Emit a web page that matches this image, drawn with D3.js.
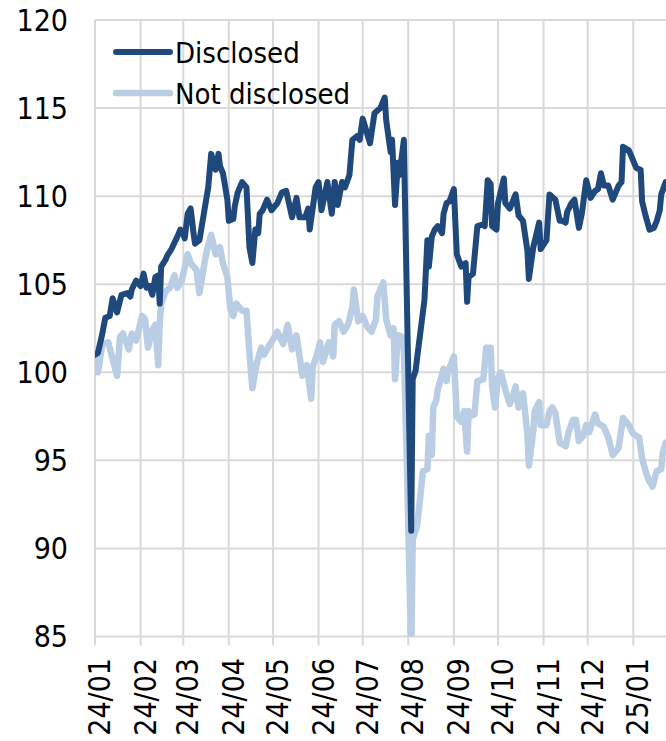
<!DOCTYPE html>
<html>
<head>
<meta charset="utf-8">
<script src="https://cdn.jsdelivr.net/npm/d3@7"></script>
<style>
  html, body { margin: 0; padding: 0; background: #fff; }
  svg text { font-family: "DejaVu Sans Condensed", "DejaVu Sans", sans-serif; font-stretch: condensed; fill: #000; }
</style>
</head>
<body>
<div id="chart"></div>
<script>
// series names + colours
var seriesNames = ["Disclosed", "Not disclosed"];
var yTicks = [85, 90, 95, 100, 105, 110, 115, 120];

var disclosedDates = [
  "2024-01-01","2024-01-03","2024-01-06","2024-01-08","2024-01-11","2024-01-13","2024-01-16","2024-01-19",
  "2024-01-23","2024-01-25","2024-01-26","2024-01-29","2024-02-01","2024-02-03","2024-02-05","2024-02-07",
  "2024-02-09","2024-02-11","2024-02-13","2024-02-14","2024-02-15","2024-02-18","2024-02-19","2024-02-22",
  "2024-02-26","2024-02-28","2024-03-01","2024-03-02","2024-03-04","2024-03-06","2024-03-08","2024-03-09",
  "2024-03-12","2024-03-15","2024-03-18","2024-03-20","2024-03-23","2024-03-25","2024-03-26","2024-03-28",
  "2024-03-31","2024-04-01","2024-04-04","2024-04-05","2024-04-07","2024-04-10","2024-04-13","2024-04-15",
  "2024-04-17","2024-04-19","2024-04-21","2024-04-22","2024-04-24","2024-04-27","2024-04-30","2024-05-04",
  "2024-05-07","2024-05-10","2024-05-14","2024-05-17","2024-05-19","2024-05-23","2024-05-25","2024-05-26",
  "2024-05-30","2024-06-01","2024-06-03","2024-06-07","2024-06-10","2024-06-12","2024-06-14","2024-06-17",
  "2024-06-19","2024-06-22","2024-06-24","2024-06-27","2024-06-29","2024-07-01","2024-07-06","2024-07-09",
  "2024-07-13","2024-07-16","2024-07-17","2024-07-20","2024-07-21","2024-07-23","2024-07-25","2024-07-26",
  "2024-07-29","2024-08-03","2024-08-04","2024-08-06","2024-08-07","2024-08-12","2024-08-14","2024-08-15",
  "2024-08-17","2024-08-19","2024-08-21","2024-08-24","2024-08-25","2024-08-27","2024-08-29","2024-09-01",
  "2024-09-03","2024-09-06","2024-09-09","2024-09-10","2024-09-11","2024-09-14","2024-09-17","2024-09-21",
  "2024-09-22","2024-09-24","2024-09-26","2024-09-27","2024-09-30","2024-10-01","2024-10-05","2024-10-06",
  "2024-10-09","2024-10-13","2024-10-15","2024-10-18","2024-10-21","2024-10-22","2024-10-25","2024-10-29",
  "2024-10-30","2024-11-03","2024-11-05","2024-11-09","2024-11-12","2024-11-14","2024-11-16","2024-11-17",
  "2024-11-20","2024-11-22","2024-11-25","2024-11-27","2024-11-30","2024-12-03","2024-12-06","2024-12-08",
  "2024-12-10","2024-12-12","2024-12-15","2024-12-18","2024-12-22","2024-12-24","2024-12-25","2024-12-29",
  "2025-01-01","2025-01-03","2025-01-06","2025-01-07","2025-01-09","2025-01-12","2025-01-15","2025-01-17",
  "2025-01-19","2025-01-20","2025-01-23"
];
var disclosedValues = [
  101.0,101.1,102.2,103.1,103.2,104.2,103.4,104.4,
  104.5,104.3,104.7,105.2,104.9,105.6,104.8,104.9,
  104.4,105.4,105.5,103.9,106.0,106.4,106.6,107.0,
  107.7,108.1,107.9,107.6,109.0,109.3,107.9,107.3,
  107.5,109.0,110.5,112.4,111.5,112.4,111.7,111.3,
  109.8,108.6,108.7,109.4,110.2,110.8,110.5,107.1,
  106.2,108.1,107.9,109.0,109.2,109.8,109.2,109.6,
  110.2,110.3,108.8,109.9,108.8,108.8,109.3,108.1,
  110.5,110.8,109.2,110.8,109.0,110.8,109.5,110.8,
  110.5,111.2,113.2,113.4,113.2,114.4,113.0,114.7,
  115.0,115.6,114.3,112.5,113.2,109.5,111.9,111.2,
  113.2,91.0,99.6,100.1,100.8,104.1,107.5,106.0,
  107.7,108.1,108.3,107.9,109.0,109.6,109.7,110.4,
  106.7,106.0,106.2,104.0,105.4,105.6,108.3,108.4,
  108.3,110.9,110.7,108.3,108.1,109.6,111.0,109.6,
  109.3,110.1,108.9,108.6,106.9,105.3,107.1,108.5,
  107.0,107.5,110.1,109.8,108.6,108.6,108.5,109.1,
  109.6,109.8,108.2,109.0,110.9,109.9,110.3,110.4,
  111.3,110.6,110.6,109.8,110.6,110.8,112.8,112.6,
  112.0,111.6,111.5,109.7,109.0,108.1,108.2,108.6,
  109.2,110.1,110.8
];

var notDisclosedDates = [
  "2024-01-01","2024-01-03","2024-01-06","2024-01-10","2024-01-16","2024-01-18","2024-01-20","2024-01-24",
  "2024-01-26","2024-01-29","2024-02-02","2024-02-04","2024-02-06","2024-02-09","2024-02-11","2024-02-13",
  "2024-02-14","2024-02-15","2024-02-18","2024-02-21","2024-02-24","2024-02-26","2024-02-29","2024-03-04",
  "2024-03-06","2024-03-10","2024-03-12","2024-03-15","2024-03-17","2024-03-20","2024-03-23","2024-03-26",
  "2024-03-28","2024-03-31","2024-04-02","2024-04-04","2024-04-06","2024-04-10","2024-04-13","2024-04-15",
  "2024-04-17","2024-04-20","2024-04-23","2024-04-25","2024-04-29","2024-05-02","2024-05-04","2024-05-08",
  "2024-05-11","2024-05-14","2024-05-17","2024-05-21","2024-05-24","2024-05-27","2024-05-28","2024-05-31",
  "2024-06-02","2024-06-04","2024-06-08","2024-06-11","2024-06-12","2024-06-15","2024-06-18","2024-06-21",
  "2024-06-24","2024-06-25","2024-06-28","2024-07-01","2024-07-04","2024-07-07","2024-07-10","2024-07-11",
  "2024-07-15","2024-07-17","2024-07-20","2024-07-22","2024-07-23","2024-07-25","2024-07-28","2024-07-29",
  "2024-07-31","2024-08-03","2024-08-04","2024-08-07","2024-08-09","2024-08-11","2024-08-14","2024-08-15",
  "2024-08-17","2024-08-18","2024-08-20","2024-08-21","2024-08-25","2024-08-27","2024-08-28","2024-09-01",
  "2024-09-03","2024-09-06","2024-09-08","2024-09-10","2024-09-11","2024-09-12","2024-09-15","2024-09-17",
  "2024-09-21","2024-09-23","2024-09-26","2024-09-27","2024-09-29","2024-10-01","2024-10-03","2024-10-06",
  "2024-10-09","2024-10-11","2024-10-13","2024-10-15","2024-10-18","2024-10-21","2024-10-22","2024-10-25",
  "2024-10-26","2024-10-29","2024-10-30","2024-11-03","2024-11-05","2024-11-07","2024-11-09","2024-11-12",
  "2024-11-16","2024-11-18","2024-11-21","2024-11-23","2024-11-25","2024-11-28","2024-11-30","2024-12-02",
  "2024-12-06","2024-12-08","2024-12-12","2024-12-15","2024-12-18","2024-12-20","2024-12-22","2024-12-25",
  "2024-12-29","2025-01-01","2025-01-05","2025-01-07","2025-01-10","2025-01-12","2025-01-14","2025-01-17",
  "2025-01-20","2025-01-21","2025-01-23"
];
var notDisclosedValues = [
  100.8,100.0,101.6,101.7,99.8,102.0,102.2,101.3,
  102.2,101.8,103.2,103.0,101.4,102.4,102.7,100.4,
  102.8,103.9,104.6,104.8,105.5,104.8,105.2,106.7,
  106.2,105.8,104.5,106.0,106.9,107.8,106.7,107.1,
  106.2,105.4,103.6,103.2,103.9,103.5,103.5,101.1,
  99.1,100.5,101.4,101.0,101.6,102.0,102.3,101.6,
  102.7,101.3,102.1,99.8,100.4,98.5,100.3,101.0,
  101.7,100.6,101.7,100.9,102.7,102.9,102.3,102.7,
  103.7,104.7,102.9,103.2,102.6,102.3,103.0,104.3,
  105.1,103.0,102.1,102.5,99.6,102.1,102.0,101.3,
  95.0,84.0,90.5,91.3,92.8,94.4,94.5,96.4,
  95.3,98.0,98.4,99.0,100.2,99.5,100.0,100.9,
  97.5,97.2,97.8,95.5,97.8,97.5,97.6,99.5,
  99.6,101.4,101.4,99.2,98.0,99.7,100.0,99.0,
  98.2,98.6,99.2,98.0,98.8,96.5,94.7,96.7,
  97.8,98.3,97.0,97.0,97.8,98.0,97.7,96.0,
  95.8,96.6,97.3,97.3,96.1,96.4,97.0,96.6,
  97.6,97.1,96.9,96.3,95.3,95.5,95.7,97.4,
  97.0,96.5,96.3,95.1,94.2,93.8,93.5,94.4,
  94.5,95.4,96.0
];

var colors = ["#1f497d", "#b9cde5"];
var strokeWidths = [6, 6.5];

(function () {
  var W = 666, H = 741;
  var plotLeft = 95, plotTop = 20, plotBottom = 636.5;
  var parse = d3.timeParse("%Y-%m-%d");

  var x = d3.scaleTime()
    .domain([parse("2024-01-01"), parse("2025-01-01")])
    .range([plotLeft, 633.3]);
  var y = d3.scaleLinear().domain([85, 120]).range([plotBottom, plotTop]);

  var svg = d3.select("#chart").append("svg")
    .attr("width", W).attr("height", H)
    .attr("viewBox", "0 0 " + W + " " + H);

  svg.append("defs").append("clipPath").attr("id", "plot")
    .append("rect").attr("x", plotLeft).attr("y", plotTop)
    .attr("width", W - plotLeft).attr("height", plotBottom - plotTop);

  var months = d3.timeMonth.range(parse("2024-01-01"), parse("2025-01-02"));
  var grid = svg.append("g").attr("stroke", "#d9d9d9").attr("stroke-width", 2);

  // horizontal grid
  grid.selectAll(".hg").data(yTicks).enter().append("line")
    .attr("x1", plotLeft).attr("x2", W)
    .attr("y1", function (d) { return y(d); })
    .attr("y2", function (d) { return y(d); });

  // vertical grid, runs a bit below the axis as a tick
  grid.selectAll(".vg").data(months).enter().append("line")
    .attr("x1", function (d) { return x(d); })
    .attr("x2", function (d) { return x(d); })
    .attr("y1", plotTop).attr("y2", plotBottom + 9);

  svg.selectAll(".ylab").data(yTicks).enter().append("text")
    .attr("x", 68).attr("y", function (d) { return y(d); })
    .attr("dy", "0.36em").attr("text-anchor", "end")
    .style("font-size", "30px")
    .text(function (d) { return d; });

  var fmt = d3.timeFormat("%y/%m");
  svg.selectAll(".xlab").data(months).enter().append("text")
    .attr("transform", function (d) { return "translate(" + x(d) + "," + 658 + ") rotate(-90)"; })
    .attr("dy", "0.5em").attr("text-anchor", "end")
    .style("font-size", "30px")
    .text(function (d) { return fmt(d); });

  var line = d3.line()
    .x(function (d) { return x(d.date); })
    .y(function (d) { return y(d.value); });

  function pts(dates, values) {
    return dates.map(function (d, i) { return { date: parse(d), value: values[i] }; });
  }

  // light series first so the dark one sits on top
  var series = [
    { pts: pts(notDisclosedDates, notDisclosedValues), color: colors[1], w: strokeWidths[1] },
    { pts: pts(disclosedDates, disclosedValues), color: colors[0], w: strokeWidths[0] }
  ];

  svg.append("g").attr("clip-path", "url(#plot)")
    .selectAll("path").data(series).enter().append("path")
    .attr("d", function (s) { return line(s.pts); })
    .attr("fill", "none")
    .attr("stroke", function (s) { return s.color; })
    .attr("stroke-width", function (s) { return s.w; })
    .attr("stroke-linejoin", "round")
    .attr("stroke-linecap", "round");

  // legend
  var lg = svg.append("g");
  seriesNames.forEach(function (name, i) {
    var ly = 52 + i * 41;
    lg.append("line")
      .attr("x1", 116).attr("x2", 170).attr("y1", ly).attr("y2", ly)
      .attr("stroke", colors[i]).attr("stroke-width", strokeWidths[i]).attr("stroke-linecap", "round");
    lg.append("text")
      .attr("x", 175).attr("y", ly + 11)
      .style("font-size", "29px")
      .text(name);
  });
})();
</script>
</body>
</html>
